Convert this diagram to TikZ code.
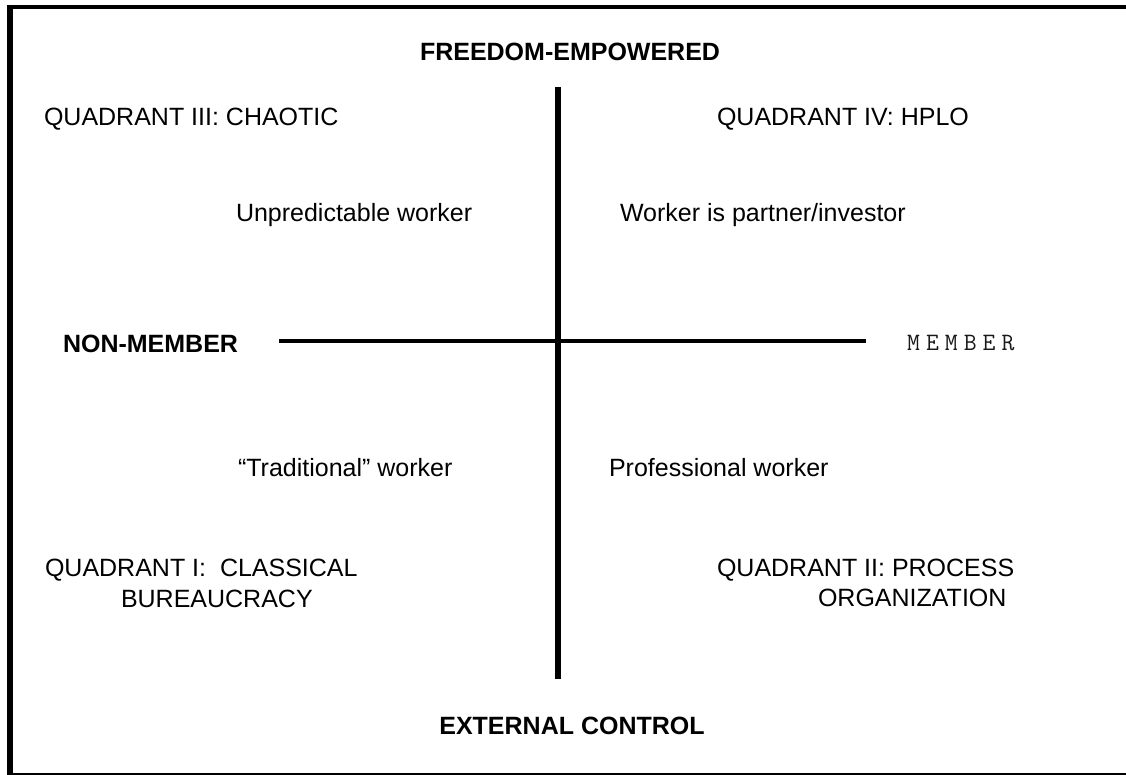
\documentclass[tikz,border=0pt]{standalone}
\usepackage{fontspec}
\setmainfont{Liberation Sans}
\newcommand\spc{\kern6pt}
\begin{document}
\begin{tikzpicture}[x=1pt,y=-1pt,
  lbl/.style={inner sep=0pt,outer sep=0pt,anchor=base west,font=\fontsize{25}{30}\selectfont},
  bold/.style={inner sep=0pt,outer sep=0pt,anchor=base,font=\fontsize{25}{30}\selectfont\bfseries},
  axisv/.style={line width=6pt},
  axish/.style={line width=4.5pt},
  frame/.style={line width=#1}]
\useasboundingbox (0,0) rectangle (1126,775);
% frame
\coordinate (ftl) at (7,7);
\coordinate (ftr) at (1126,7);
\coordinate (flt) at (10,5);
\coordinate (flb) at (10,775);
\coordinate (fbl) at (7,774);
\coordinate (fbr) at (1126,774);
\draw[frame=4pt] (ftl) -- (ftr);
\draw[frame=6pt] (flt) -- (flb);
\draw[frame=3pt] (fbl) -- (fbr);
% axes
\coordinate (vtop) at (557.5,87);
\coordinate (vbot) at (557.5,679);
\coordinate (hleft) at (279,341);
\coordinate (hright) at (866,341);
\draw[axisv] (vtop) -- (vbot);
\draw[axish] (hleft) -- (hright);
% labels
\node[bold] (free) at (570,61) {FREEDOM-EMPOWERED};
\node[bold] (ext) at (572,734) {EXTERNAL CONTROL};
\node[bold,anchor=base west] (nonmem) at (63,352) {NON-MEMBER};
\node[inner sep=0pt,anchor=base west,text=black!90,font=\fontsize{25}{30}\selectfont\ttfamily] (mem) at (907,350) {M\spc E\spc M\spc B\spc E\spc R};
\node[lbl] (q3) at (44,126) {QUADRANT III: CHAOTIC};
\node[lbl] (q4) at (717,126) {QUADRANT IV: HPLO};
\node[lbl] (unp) at (236,222) {Unpredictable worker};
\node[lbl] (partner) at (620,222) {Worker is partner/investor};
\node[lbl] (trad) at (238,476) {“Traditional” worker};
\node[lbl] (prof) at (609,476) {Professional worker};
\node[lbl] (q1a) at (45,576) {QUADRANT I:\ \ CLASSICAL};
\node[lbl] (q1b) at (121,607) {BUREAUCRACY};
\node[lbl] (q2a) at (717,576) {QUADRANT II: PROCESS};
\node[lbl] (q2b) at (818,606) {ORGANIZATION};
\end{tikzpicture}
\end{document}
